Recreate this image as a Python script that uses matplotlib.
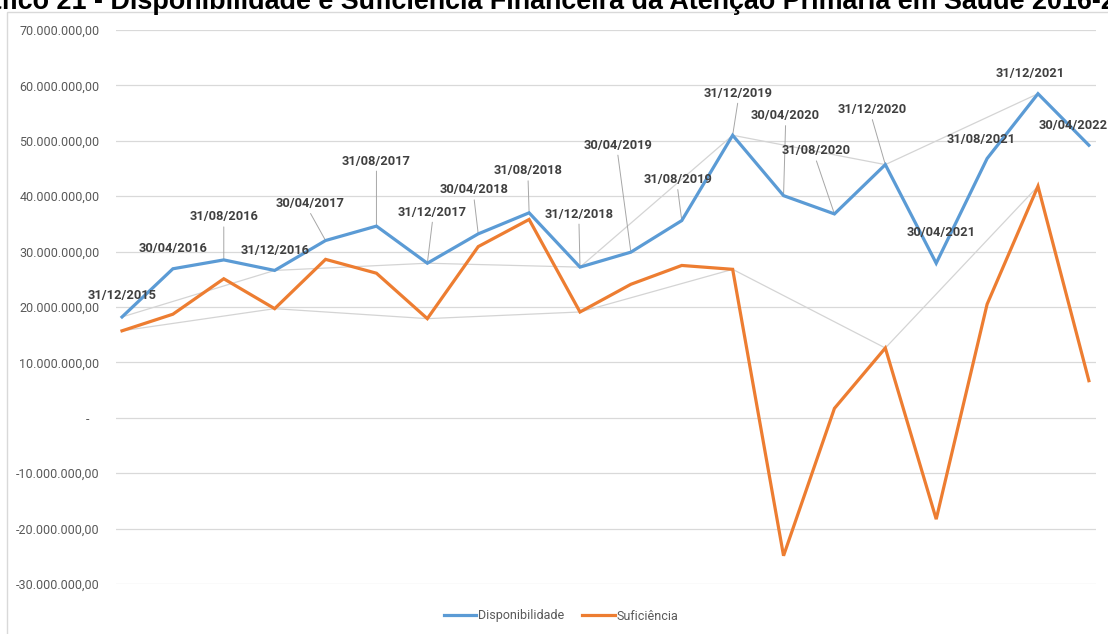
import numpy as np
import matplotlib
matplotlib.use("Agg")
import matplotlib.pyplot as plt
import matplotlib.patches as mpatches
from matplotlib.ticker import MultipleLocator, FuncFormatter

# Data (R$)
datas = [
    "31/12/2015", "30/04/2016", "31/08/2016", "31/12/2016",
    "30/04/2017", "31/08/2017", "31/12/2017", "30/04/2018",
    "31/08/2018", "31/12/2018", "30/04/2019", "31/08/2019",
    "31/12/2019", "30/04/2020", "31/08/2020", "31/12/2020",
    "30/04/2021", "31/08/2021", "31/12/2021", "30/04/2022",
]
disponibilidade = [
    18.2e6, 26.9e6, 28.5e6, 26.6e6, 32.0e6, 34.6e6, 27.9e6, 33.2e6,
    37.0e6, 27.2e6, 29.9e6, 35.6e6, 51.0e6, 40.1e6, 36.8e6, 45.7e6,
    27.9e6, 46.8e6, 58.5e6, 49.2e6,
]
suficiencia = [
    15.7e6, 18.7e6, 25.1e6, 19.7e6, 28.6e6, 26.1e6, 17.9e6, 30.9e6,
    35.8e6, 19.1e6, 24.1e6, 27.5e6, 26.8e6, -24.9e6, 1.7e6, 12.6e6,
    -18.3e6, 20.5e6, 41.8e6, 6.7e6,
]

titulo = ("Gráfico 21 - Disponibilidade e Suficiência Financeira da "
          "Atenção Primária em Saúde 2016-2022")

# label placement: offset of label centre from the blue point, in pixels
label_off = [
    (0, 21), (0, 20), (0, 43), (0, 20), (-15, 37), (0, 65), (5, 51),
    (-4, 44), (-1, 42), (-1, 53), (-13, 107), (-4, 41), (5, 42),
    (2, 80), (-18, 63), (-13, 55), (5, 31), (-6, 19), (-8, 20), (-16, 20),
]

AZUL = "#5b9bd5"
LARANJA = "#ed7d31"
CINZA_TXT = "#595959"
FONTE = ["Roboto", "DejaVu Sans"]

fig = plt.figure(figsize=(11.08, 6.34), dpi=100)
ax = fig.add_axes([116 / 1108, 50 / 634, 980 / 1108, 554 / 634])

x = np.arange(len(datas))

# faint grey lines joining the December points
dez = [i for i, d in enumerate(datas) if d.startswith("31/12")]
ax.plot(x[dez], np.array(disponibilidade)[dez], color="#d4d4d4", lw=0.9, zorder=1)
ax.plot(x[dez], np.array(suficiencia)[dez], color="#d4d4d4", lw=0.9, zorder=1)

ax.plot(x, disponibilidade, color=AZUL, lw=2.3, label="Disponibilidade",
        solid_joinstyle="miter", zorder=3)
ax.plot(x, suficiencia, color=LARANJA, lw=2.3, label="Suficiência",
        solid_joinstyle="miter", zorder=3)

# date labels with leader lines
for i, (d, v) in enumerate(zip(datas, disponibilidade)):
    dx, dy = label_off[i]
    ax.annotate(d, xy=(x[i], v), xytext=(dx, dy), textcoords="offset pixels",
                ha="center", va="center", fontsize=9.3, fontweight="bold",
                color="#404040", family=FONTE, zorder=5, annotation_clip=False)
    if np.hypot(dx, dy) > 33:
        ax.annotate("", xy=(x[i], v), xytext=(dx, dy - 10), textcoords="offset pixels",
                    arrowprops=dict(arrowstyle="-", color="#a6a6a6", lw=0.7,
                                    shrinkA=0, shrinkB=0), zorder=2)

ax.set_xlim(-0.118, 19.14)
ax.set_ylim(-30e6, 70e6)
ax.yaxis.set_major_locator(MultipleLocator(10e6))


def fmt_brl(v, pos):
    if abs(v) < 1:
        return "-   "
    s = f"{v:,.2f}"
    return s.replace(",", "X").replace(".", ",").replace("X", ".")


ax.yaxis.set_major_formatter(FuncFormatter(fmt_brl))
ax.grid(axis="y", color="#d9d9d9", lw=0.9)
ax.set_axisbelow(True)
ax.set_xticks([])
for s in ax.spines.values():
    s.set_visible(False)
ax.tick_params(axis="y", length=0, pad=12, labelsize=9, labelcolor=CINZA_TXT)
for t in ax.get_yticklabels():
    t.set_family(FONTE)

# chart frame
fig.patches.append(mpatches.Rectangle((7 / 1108, -0.1), 1.2, 1.1 - 11.5 / 634,
                                      transform=fig.transFigure, fill=False,
                                      edgecolor="#d9d9d9", lw=1.0))

# title, cut off at the top of the image
fig.text(-45 / 1108, 1 - 9 / 634, titulo, ha="left", va="baseline",
         fontsize=19.4, fontweight="bold", family="Liberation Sans", color="black")

leg = fig.legend(loc="center", bbox_to_anchor=(561 / 1108, 1 - 616 / 634), ncol=2,
                 frameon=False, handlelength=2.6, handletextpad=0.15,
                 columnspacing=1.4, prop={"family": FONTE, "size": 9})
for t in leg.get_texts():
    t.set_color(CINZA_TXT)

fig.savefig("out.png", dpi=100)
